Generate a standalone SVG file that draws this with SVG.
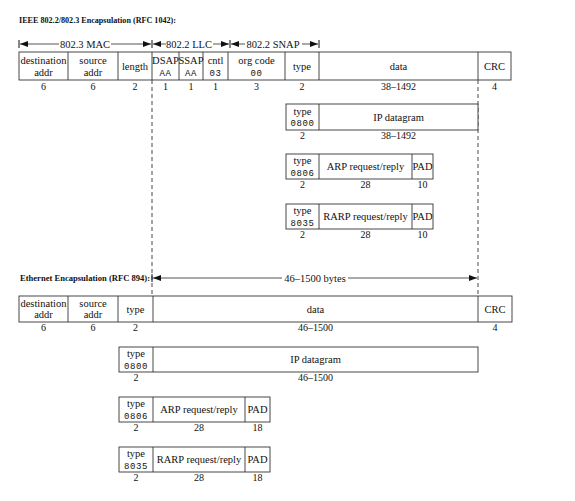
<svg xmlns="http://www.w3.org/2000/svg" width="575" height="501" viewBox="0 0 575 501">
<defs>
<marker id="ah" viewBox="0 0 8 6" refX="8" refY="3" markerWidth="8" markerHeight="6" markerUnits="userSpaceOnUse" orient="auto-start-reverse">
<path d="M0,0 L8,3 L0,6 Z" fill="#111"/>
</marker>
<style>
.bx{fill:#fff;stroke:#333;stroke-width:0.9}
.dv{stroke:#333;stroke-width:0.9}
.t{font-family:"Liberation Serif",serif;font-size:10.5px;fill:#111;text-anchor:middle}
.m{font-family:"Liberation Mono",monospace;font-size:9px;letter-spacing:0.6px;fill:#111;text-anchor:middle}
.n{font-family:"Liberation Serif",serif;font-size:10px;fill:#111;text-anchor:middle}
.h{font-family:"Liberation Serif",serif;font-size:8.5px;font-weight:bold;fill:#111}
.ar{stroke:#555;stroke-width:1;fill:none}
.tk{stroke:#111;stroke-width:1}
.ds{stroke:#333;stroke-width:0.9;stroke-dasharray:4,3;fill:none}
</style>
</defs>
<rect width="575" height="501" fill="#fff"/>

<text class="h" x="19" y="23" textLength="157" lengthAdjust="spacingAndGlyphs">IEEE 802.2/802.3 Encapsulation (RFC 1042):</text>
<text class="h" x="20" y="281" textLength="130" lengthAdjust="spacingAndGlyphs">Ethernet Encapsulation (RFC 894):</text>

<g id="connectors">
<line class="tk" x1="19" y1="40" x2="19" y2="48"/>
<line class="tk" x1="152" y1="40" x2="152" y2="48"/>
<line class="tk" x1="230" y1="40" x2="230" y2="48"/>
<line class="tk" x1="319" y1="40" x2="319" y2="48"/>
<line class="ar" x1="59" y1="44" x2="20" y2="44" marker-end="url(#ah)"/>
<line class="ar" x1="111" y1="44" x2="151" y2="44" marker-end="url(#ah)"/>
<line class="ar" x1="166" y1="44" x2="153" y2="44" marker-end="url(#ah)"/>
<line class="ar" x1="213" y1="44" x2="229" y2="44" marker-end="url(#ah)"/>
<line class="ar" x1="245" y1="44" x2="231" y2="44" marker-end="url(#ah)"/>
<line class="ar" x1="302" y1="44" x2="318" y2="44" marker-end="url(#ah)"/>
<text class="t" x="85" y="47.5">802.3 MAC</text>
<text class="t" x="189" y="47.5">802.2 LLC</text>
<text class="t" x="273" y="47.5">802.2 SNAP</text>
<line class="ds" x1="152" y1="80" x2="152" y2="296"/>
<line class="ds" x1="478" y1="80" x2="478" y2="296"/>
<line class="tk" x1="152" y1="274" x2="152" y2="282"/>
<line class="ar" x1="282" y1="278" x2="153" y2="278" marker-end="url(#ah)"/>
<line class="ar" x1="348" y1="278" x2="477" y2="278" marker-end="url(#ah)"/>
<text class="t" x="315" y="281.5">46–1500 bytes</text>
</g>

<g id="ieee-frame">
<rect class="bx" x="19" y="52" width="492" height="28"/>
<line class="dv" x1="68" y1="52" x2="68" y2="80"/>
<line class="dv" x1="118" y1="52" x2="118" y2="80"/>
<line class="dv" x1="152" y1="52" x2="152" y2="80"/>
<line class="dv" x1="179" y1="52" x2="179" y2="80"/>
<line class="dv" x1="203" y1="52" x2="203" y2="80"/>
<line class="dv" x1="228" y1="52" x2="228" y2="80"/>
<line class="dv" x1="285" y1="52" x2="285" y2="80"/>
<line class="dv" x1="319" y1="52" x2="319" y2="80"/>
<line class="dv" x1="478" y1="52" x2="478" y2="80"/>
<text class="t" x="43.5" y="63.5">destination</text>
<text class="t" x="43.5" y="75.5">addr</text>
<text class="t" x="93" y="63.5">source</text>
<text class="t" x="93" y="75.5">addr</text>
<text class="t" x="135" y="69.5">length</text>
<text class="t" x="165.5" y="63.5">DSAP</text>
<text class="m" x="165.5" y="75.5">AA</text>
<text class="t" x="191" y="63.5">SSAP</text>
<text class="m" x="191" y="75.5">AA</text>
<text class="t" x="215.5" y="63.5">cntl</text>
<text class="m" x="215.5" y="75.5">03</text>
<text class="t" x="256.5" y="63.5">org code</text>
<text class="m" x="256.5" y="75.5">00</text>
<text class="t" x="302" y="69.5">type</text>
<text class="t" x="398.5" y="69.5">data</text>
<text class="t" x="494.5" y="69.5">CRC</text>
<text class="n" x="43.5" y="89.5">6</text>
<text class="n" x="93" y="89.5">6</text>
<text class="n" x="135" y="89.5">2</text>
<text class="n" x="165.5" y="89.5">1</text>
<text class="n" x="191" y="89.5">1</text>
<text class="n" x="215.5" y="89.5">1</text>
<text class="n" x="256.5" y="89.5">3</text>
<text class="n" x="302" y="89.5">2</text>
<text class="n" x="398.5" y="89.5">38–1492</text>
<text class="n" x="494.5" y="89.5">4</text>
</g>

<g id="ieee-ip">
<rect class="bx" x="286" y="104" width="192" height="26"/>
<line class="dv" x1="319" y1="104" x2="319" y2="130"/>
<text class="t" x="302.5" y="114.5">type</text>
<text class="m" x="302.5" y="126">0800</text>
<text class="t" x="398.5" y="120.5">IP datagram</text>
<text class="n" x="302.5" y="138.5">2</text>
<text class="n" x="398.5" y="138.5">38–1492</text>
</g>

<g id="ieee-arp">
<rect class="bx" x="286" y="154" width="147" height="25"/>
<line class="dv" x1="319" y1="154" x2="319" y2="179"/>
<line class="dv" x1="412" y1="154" x2="412" y2="179"/>
<text class="t" x="302.5" y="164">type</text>
<text class="m" x="302.5" y="175.5">0806</text>
<text class="t" x="365.5" y="170">ARP request/reply</text>
<text class="t" x="422.5" y="170">PAD</text>
<text class="n" x="302.5" y="188">2</text>
<text class="n" x="365.5" y="188">28</text>
<text class="n" x="422.5" y="188">10</text>
</g>

<g id="ieee-rarp">
<rect class="bx" x="286" y="204" width="147" height="25"/>
<line class="dv" x1="319" y1="204" x2="319" y2="229"/>
<line class="dv" x1="412" y1="204" x2="412" y2="229"/>
<text class="t" x="302.5" y="214">type</text>
<text class="m" x="302.5" y="225.5">8035</text>
<text class="t" x="365.5" y="220">RARP request/reply</text>
<text class="t" x="422.5" y="220">PAD</text>
<text class="n" x="302.5" y="238">2</text>
<text class="n" x="365.5" y="238">28</text>
<text class="n" x="422.5" y="238">10</text>
</g>

<g id="eth-frame">
<rect class="bx" x="19" y="296" width="493" height="26"/>
<line class="dv" x1="68" y1="296" x2="68" y2="322"/>
<line class="dv" x1="118" y1="296" x2="118" y2="322"/>
<line class="dv" x1="153" y1="296" x2="153" y2="322"/>
<line class="dv" x1="478" y1="296" x2="478" y2="322"/>
<text class="t" x="43.5" y="306.5">destination</text>
<text class="t" x="43.5" y="318">addr</text>
<text class="t" x="93" y="306.5">source</text>
<text class="t" x="93" y="318">addr</text>
<text class="t" x="135.5" y="312.5">type</text>
<text class="t" x="315.5" y="312.5">data</text>
<text class="t" x="495" y="312.5">CRC</text>
<text class="n" x="43.5" y="330.5">6</text>
<text class="n" x="93" y="330.5">6</text>
<text class="n" x="135.5" y="330.5">2</text>
<text class="n" x="315.5" y="330.5">46–1500</text>
<text class="n" x="495" y="330.5">4</text>
</g>

<g id="eth-ip">
<rect class="bx" x="119" y="347" width="359" height="25"/>
<line class="dv" x1="153" y1="347" x2="153" y2="372"/>
<text class="t" x="136" y="357">type</text>
<text class="m" x="136" y="368.5">0800</text>
<text class="t" x="315.5" y="363">IP datagram</text>
<text class="n" x="136" y="380.5">2</text>
<text class="n" x="315.5" y="380.5">46–1500</text>
</g>

<g id="eth-arp">
<rect class="bx" x="119" y="397" width="151" height="25"/>
<line class="dv" x1="153" y1="397" x2="153" y2="422"/>
<line class="dv" x1="245" y1="397" x2="245" y2="422"/>
<text class="t" x="136" y="407">type</text>
<text class="m" x="136" y="418.5">0806</text>
<text class="t" x="199" y="413">ARP request/reply</text>
<text class="t" x="257.5" y="413">PAD</text>
<text class="n" x="136" y="431">2</text>
<text class="n" x="199" y="431">28</text>
<text class="n" x="257.5" y="431">18</text>
</g>

<g id="eth-rarp">
<rect class="bx" x="119" y="447" width="151" height="25"/>
<line class="dv" x1="153" y1="447" x2="153" y2="472"/>
<line class="dv" x1="245" y1="447" x2="245" y2="472"/>
<text class="t" x="136" y="457">type</text>
<text class="m" x="136" y="468.5">8035</text>
<text class="t" x="199" y="463">RARP request/reply</text>
<text class="t" x="257.5" y="463">PAD</text>
<text class="n" x="136" y="481">2</text>
<text class="n" x="199" y="481">28</text>
<text class="n" x="257.5" y="481">18</text>
</g>
</svg>
